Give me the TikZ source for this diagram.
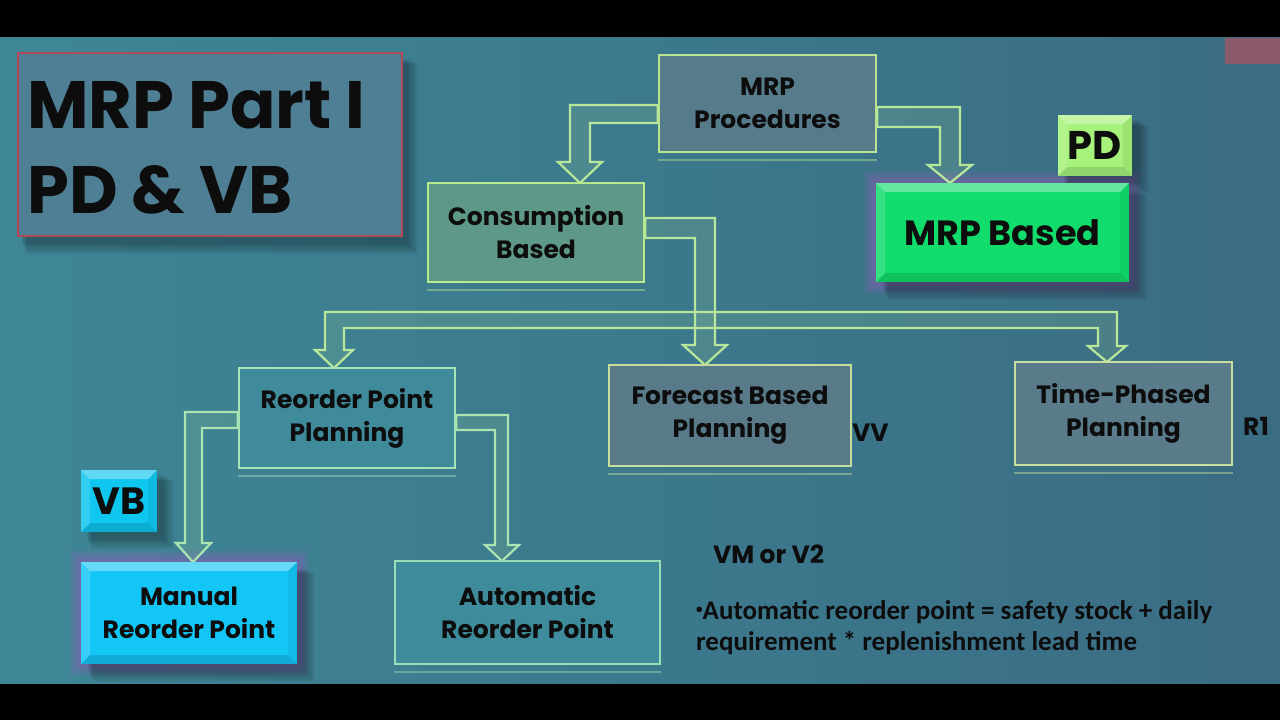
\documentclass[tikz,border=0pt]{standalone}
\usepackage{fontspec}
\newfontfamily\gothic{Poppins}
\newfontfamily\calib{Carlito}
\usetikzlibrary{calc}
\pgfdeclarelayer{bg}
\pgfsetlayers{bg,main}
\definecolor{bgL}{HTML}{3E8696}
\definecolor{bgM}{HTML}{4A8E9D}
\definecolor{bgR}{HTML}{3A6C83}
\definecolor{txt}{HTML}{0D0D0D}
\definecolor{arrowc}{HTML}{B6E79A}
\definecolor{arrowb}{HTML}{AAE4B0}
\definecolor{glowc}{HTML}{9A5FC0}
\definecolor{pinkc}{HTML}{8B5A6A}
\definecolor{titleD}{HTML}{B04858}
\definecolor{titleF}{HTML}{4E7F94}
\definecolor{procD}{HTML}{B9E48F}
\definecolor{procF}{HTML}{567C8C}
\definecolor{consD}{HTML}{B7E98D}
\definecolor{consF}{HTML}{5E9888}
\definecolor{mrpbF}{HTML}{12DD6C}
\definecolor{pdF}{HTML}{A6F27A}
\definecolor{ropD}{HTML}{A4E4B6}
\definecolor{ropF}{HTML}{3F8B9B}
\definecolor{foreD}{HTML}{C6DE9C}
\definecolor{foreF}{HTML}{587A89}
\definecolor{timeD}{HTML}{C8DF9F}
\definecolor{timeF}{HTML}{5A7B8A}
\definecolor{vbF}{HTML}{0FC6EF}
\definecolor{manF}{HTML}{14C6F6}
\definecolor{autoD}{HTML}{98DFB8}
\definecolor{autoF}{HTML}{3E8B9B}
\tikzset{
  every node/.style={text=txt},
  gtext/.style={font=\gothic\bfseries\fontsize{25}{33}\selectfont, align=center},
  flatbox/.style={draw=#1, line width=2.5pt, inner sep=0pt, gtext},
  bevelbox/.style={inner sep=0pt, gtext,
    path picture={
      \fill[white,opacity=0.35] (path picture bounding box.north west) -- (path picture bounding box.north east)
        -- ([xshift=-9pt,yshift=-9pt]path picture bounding box.north east) -- ([xshift=9pt,yshift=-9pt]path picture bounding box.north west) -- cycle;
      \fill[black,opacity=0.12] (path picture bounding box.south west) -- (path picture bounding box.south east)
        -- ([xshift=-9pt,yshift=9pt]path picture bounding box.south east) -- ([xshift=9pt,yshift=9pt]path picture bounding box.south west) -- cycle;
      \fill[white,opacity=0.15] (path picture bounding box.north west) -- (path picture bounding box.south west)
        -- ([xshift=9pt,yshift=9pt]path picture bounding box.south west) -- ([xshift=9pt,yshift=-9pt]path picture bounding box.north west) -- cycle;
      \fill[black,opacity=0.06] (path picture bounding box.north east) -- (path picture bounding box.south east)
        -- ([xshift=-9pt,yshift=9pt]path picture bounding box.south east) -- ([xshift=-9pt,yshift=-9pt]path picture bounding box.north east) -- cycle;
    }},
  blockarrow/.style={draw=arrowc, line width=2.2pt, fill=arrowc, fill opacity=0.14, line join=miter},
  plaintext/.style={font=\gothic\bfseries\fontsize{25}{31}\selectfont, anchor=base west, inner sep=0pt},
}
\newcommand{\myglow}[2]{%
  \begin{pgfonlayer}{bg}
  \foreach \i in {1,...,12} {
    \fill[#2, opacity=0.06] ($(#1.north west)+(-\i,-\i)$) rectangle ($(#1.south east)+(\i,\i)$);
  }
  \end{pgfonlayer}}
\newcommand{\myshadow}[3]{%
  \begin{pgfonlayer}{bg}
  \foreach \i in {1,...,10} {
    \fill[black, opacity=0.03] ($(#1.north west)+(#2+\i*0.6,#3+\i*0.6)$) rectangle ($(#1.south east)+(#2+\i*1.2,#3+\i*1.2)$);
  }
  \end{pgfonlayer}}
\newcommand{\reflect}[2]{%
  \draw[#2, line width=2pt, opacity=0.45] ($(#1.south west)+(0,7)$) -- ($(#1.south east)+(0,7)$);}
\begin{document}
\begin{tikzpicture}[x=1pt,y=-1pt]
\useasboundingbox (0,0) rectangle (1280,720);
% background
\begin{pgfonlayer}{bg}
\fill[black] (0,0) rectangle (1280,720);
\shade[left color=bgL, middle color=bgM, right color=bgR] (0,37) rectangle (1280,683);
\fill[pinkc] (1225,38) rectangle (1280,64);
\end{pgfonlayer}

% ---------- boxes ----------
\node[draw=titleD, line width=1.6pt, fill=titleF,
      minimum width=384pt, minimum height=183pt, anchor=north west] (title) at (17,52) {};
\node[plaintext, font=\gothic\bfseries\fontsize{67}{85}\selectfont] (t1) at (27,128) {MRP Part I};
\node[plaintext, font=\gothic\bfseries\fontsize{67}{85}\selectfont] (t2) at (27,213) {PD \& VB};

\node[flatbox=procD, fill=procF, minimum width=217pt, minimum height=97pt] (proc) at (767.5,103.5) {MRP\\Procedures};
\node[flatbox=consD, fill=consF, minimum width=216pt, minimum height=99pt] (cons) at (536,232.5) {Consumption\\Based};
\node[bevelbox, fill=mrpbF, minimum width=253pt, minimum height=99pt,
      font=\gothic\bfseries\fontsize{35}{40}\selectfont] (mrpb) at (1002.5,232.5) {MRP Based};
\node[bevelbox, fill=pdF, minimum width=74pt, minimum height=61pt,
      font=\gothic\bfseries\fontsize{40}{44}\selectfont] (pd) at (1095,145.5) {PD};
\node[flatbox=ropD, fill=ropF, minimum width=216pt, minimum height=100pt] (rop) at (347,418) {Reorder Point\\Planning};
\node[flatbox=foreD, fill=foreF, minimum width=242pt, minimum height=101pt] (fore) at (730,415.5) {Forecast Based\\Planning};
\node[flatbox=timeD, fill=timeF, minimum width=217pt, minimum height=103pt] (time) at (1123.5,413.5) {Time-Phased\\Planning};
\node[bevelbox, fill=vbF, minimum width=76pt, minimum height=62pt,
      font=\gothic\bfseries\fontsize{38}{42}\selectfont] (vb) at (119,501) {VB};
\node[bevelbox, fill=manF, minimum width=216pt, minimum height=102pt] (man) at (189,613) {Manual\\Reorder Point};
\node[flatbox=autoD, fill=autoF, minimum width=265pt, minimum height=103pt] (auto) at (527.5,612.5) {Automatic\\Reorder Point};

% glows and shadows
\myshadow{title}{4}{6}
\myglow{mrpb}{glowc}
\myglow{man}{glowc}
\myshadow{mrpb}{6}{6}
\myshadow{man}{6}{6}
\myshadow{pd}{5}{5}
\myshadow{vb}{5}{5}

% reflections
\reflect{proc}{procD}
\reflect{cons}{consD}
\reflect{rop}{ropD}
\reflect{fore}{foreD}
\reflect{time}{timeD}
\reflect{auto}{autoD}

% ---------- block arrows ----------
\begin{pgfonlayer}{bg}
\draw[blockarrow] ($(proc.west)+(0,1.5)$) -- (570,105) -- (570,162) -- (558,162) -- (580,183) -- (602,162) -- (590,162) -- (590,123) -- ($(proc.west)+(0,19.5)$) -- cycle;
\draw[blockarrow] ($(proc.east)+(0,3.5)$) -- (960,107) -- (960,165) -- (972,165) -- (950,183) -- (928,165) -- (940,165) -- (940,127) -- ($(proc.east)+(0,23.5)$) -- cycle;
\draw[blockarrow] ($(cons.east)+(0,-14.5)$) -- (715,218) -- (715,345) -- (727,345) -- (705,365) -- (683,345) -- (695,345) -- (695,238) -- ($(cons.east)+(0,5.5)$) -- cycle;
\draw[blockarrow] (325,312) -- (1117,312) -- (1117,346) -- (1126,346) -- (1107,362) -- (1088,346) -- (1098,346) -- (1098,328) -- (344,328) -- (344,350) -- (353,350) -- (334,368) -- (315,350) -- (325,350) -- cycle;
\draw[blockarrow, draw=arrowb] ($(rop.west)+(0,-6)$) -- (185,412) -- (185,543) -- (176,543) -- (193,562) -- (211,543) -- (202,543) -- (202,428) -- ($(rop.west)+(0,10)$) -- cycle;
\draw[blockarrow, draw=arrowb] ($(rop.east)+(0,-3)$) -- (508,415) -- (508,545) -- (519,545) -- (502,561) -- (485,545) -- (495,545) -- (495,430) -- ($(rop.east)+(0,12)$) -- cycle;
\end{pgfonlayer}

% ---------- free labels ----------
\node[plaintext] (vv) at (852,441) {VV};
\node[plaintext] (r1) at (1243,435) {R1};
\node[plaintext] (vm) at (713,563) {VM or V2};
\node[plaintext, font=\calib\bfseries\fontsize{27}{32}\selectfont] (b1) at (696,619) {\raisebox{0.45ex}{\fontsize{13}{13}\selectfont •}Automatic reorder point = safety stock + daily};
\node[plaintext, font=\calib\bfseries\fontsize{27}{32}\selectfont] (b2) at (696,650) {requirement * replenishment lead time};
\end{tikzpicture}
\end{document}
